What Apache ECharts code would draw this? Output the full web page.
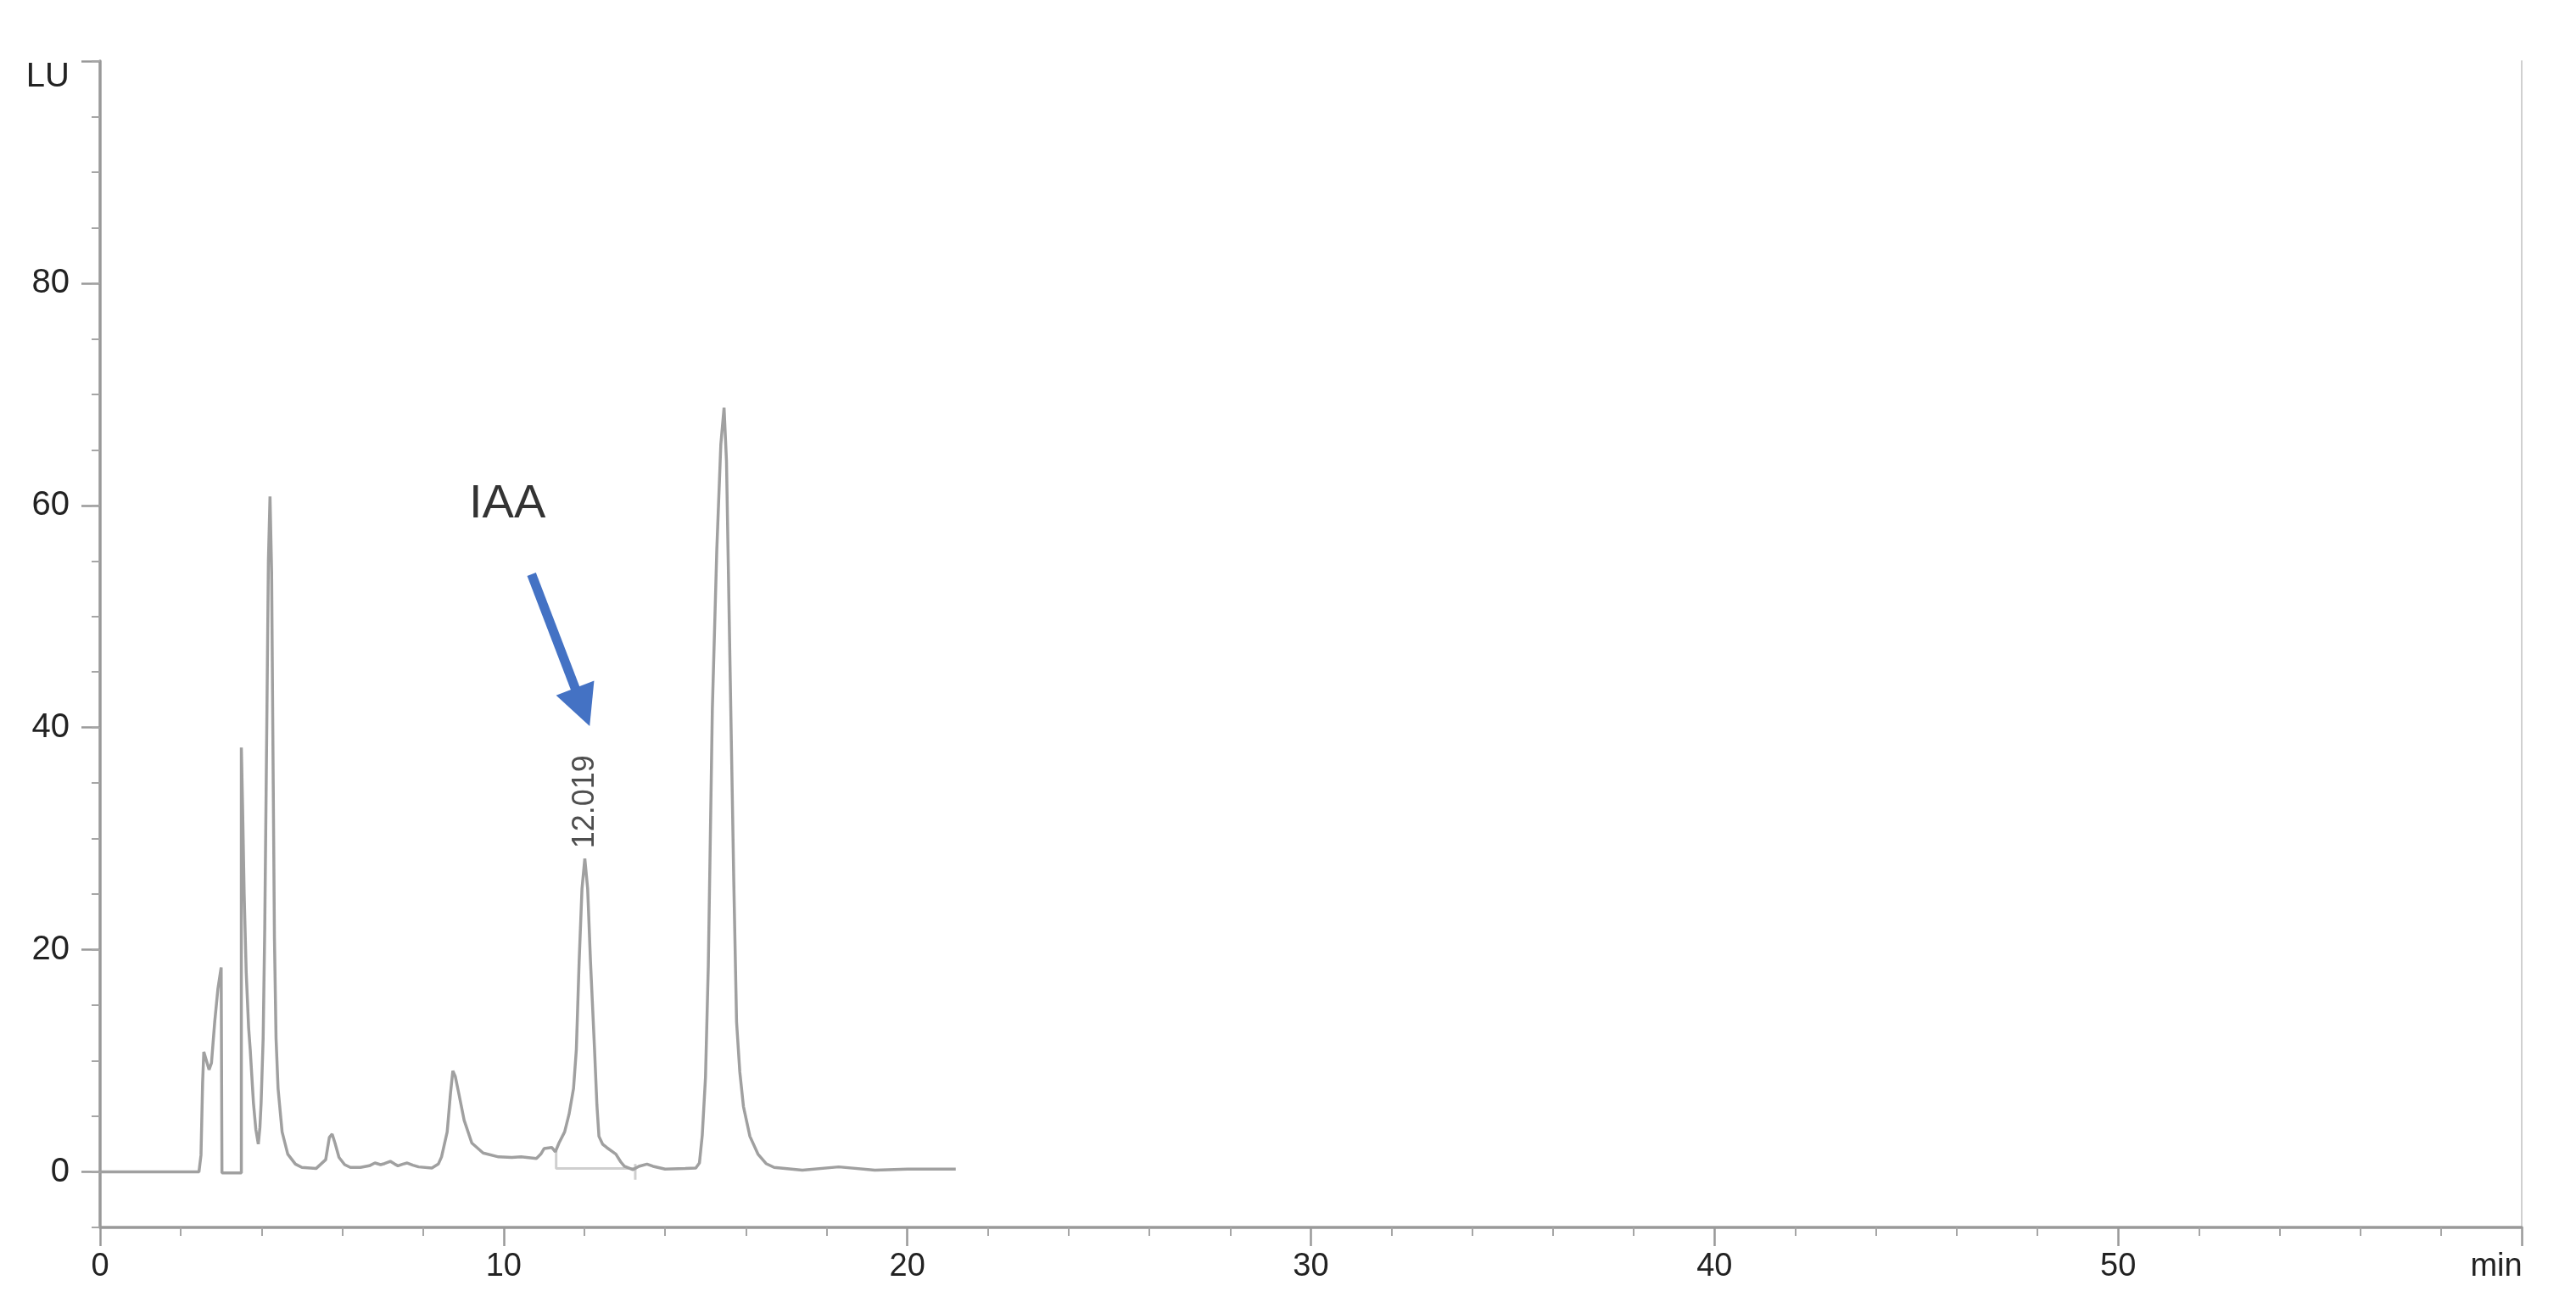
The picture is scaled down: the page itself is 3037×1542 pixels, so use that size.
<!DOCTYPE html>
<html>
<head>
<meta charset="utf-8">
<script src="https://cdn.jsdelivr.net/npm/echarts@6/dist/echarts.min.js"></script>
<style>
html,body{margin:0;padding:0;background:#fff;}
#chart{width:3037px;height:1542px;}
</style>
</head>
<body>
<div id="chart"></div>
<script>
// retention time (min)
const time = [0, 2.45, 2.5, 2.54, 2.57, 2.62, 2.7, 2.76, 2.84, 2.92, 3.0, 3.02, 3.02, 3.5, 3.5, 3.53, 3.57, 3.62, 3.68, 3.72, 3.8, 3.86, 3.92, 3.96, 3.99, 4.04, 4.08, 4.13, 4.17, 4.21, 4.25, 4.29, 4.32, 4.36, 4.41, 4.51, 4.65, 4.84, 5.0, 5.35, 5.59, 5.68, 5.75, 5.82, 5.92, 6.06, 6.2, 6.45, 6.67, 6.81, 6.95, 7.05, 7.19, 7.3, 7.38, 7.5, 7.61, 7.75, 7.89, 8.22, 8.38, 8.46, 8.6, 8.68, 8.74, 8.8, 8.88, 9.02, 9.21, 9.49, 9.87, 10.2, 10.43, 10.81, 10.92, 11.0, 11.19, 11.28, 11.37, 11.51, 11.62, 11.73, 11.8, 11.87, 11.94, 12.01, 12.08, 12.15, 12.25, 12.31, 12.36, 12.45, 12.55, 12.78, 12.9, 12.99, 13.2, 13.35, 13.55, 13.7, 14.0, 14.5, 14.76, 14.85, 14.92, 15.0, 15.07, 15.17, 15.28, 15.38, 15.46, 15.52, 15.59, 15.7, 15.77, 15.85, 15.94, 16.1, 16.3, 16.5, 16.7, 17.4, 18.3, 19.2, 20.0, 21.2];
// fluorescence signal (LU)
const signal = [0, 0, 1.5, 8.0, 10.8, 10.2, 9.2, 9.8, 13.5, 16.5, 18.4, 18.4, -0.1, -0.1, 38.2, 33, 25, 18, 13, 11, 6.2, 3.8, 2.5, 4, 6.2, 12, 22, 40, 55, 60.8, 54, 35, 21, 12, 7.5, 3.6, 1.6, 0.7, 0.4, 0.3, 1.1, 3.1, 3.4, 2.6, 1.3, 0.65, 0.4, 0.4, 0.55, 0.8, 0.65, 0.75, 0.95, 0.7, 0.55, 0.7, 0.8, 0.6, 0.45, 0.35, 0.7, 1.35, 3.6, 7.0, 9.1, 8.6, 7.2, 4.65, 2.6, 1.7, 1.35, 1.3, 1.35, 1.2, 1.6, 2.1, 2.2, 1.8, 2.6, 3.6, 5.2, 7.5, 11, 19, 25.5, 28.2, 25.5, 19, 11.1, 6, 3.2, 2.5, 2.2, 1.6, 0.9, 0.5, 0.2, 0.5, 0.7, 0.5, 0.25, 0.3, 0.35, 0.8, 3.3, 8.5, 18.6, 41.7, 56, 65.5, 68.8, 64, 49.3, 26.3, 13.5, 9, 5.9, 3.2, 1.6, 0.75, 0.4, 0.15, 0.45, 0.15, 0.25, 0.25];

// integration baseline of the IAA peak
const baseTime = [11.3, 11.3, 13.26, 13.26, 13.26];
const baseSignal = [1.9, 0.3, 0.3, 0.7, -0.7];

// axis ticks / labels
const xTicks = [0, 10, 20, 30, 40, 50, 60];
const xTickLabels = ['0', '10', '20', '30', '40', '50', 'min'];
const yTicks = [0, 20, 40, 60, 80, 100];
const yTickLabels = ['0', '20', '40', '60', '80', 'LU'];

// annotations
const peakRT = 12.019;
const peakHeight = 28.2;
const peakLabel = '12.019';
const iaaText = 'IAA';
const iaaPos = [10.09, 60.1];
const arrowStart = [10.69, 53.8];
const arrowEnd = [11.95, 41.85];

const FONT = "'Liberation Sans', Arial, sans-serif";
const trace = time.map((t, i) => [t, signal[i]]);
const baseline = baseTime.map((t, i) => [t, baseSignal[i]]);

const chart = echarts.init(document.getElementById('chart'), null, {renderer: 'canvas'});
chart.setOption({
  animation: false,
  backgroundColor: '#ffffff',
  grid: {left: 118, right: 64, top: 72, bottom: 95, containLabel: false},
  xAxis: {
    type: 'value', min: 0, max: 60, interval: 10,
    axisLine: {show: true, onZero: false, lineStyle: {color: '#999999', width: 3.5}},
    axisTick: {show: true, length: 22, lineStyle: {color: '#999999', width: 2.5}},
    minorTick: {show: true, splitNumber: 5, length: 10, lineStyle: {color: '#a6a6a6', width: 2}},
    splitLine: {show: false},
    axisLabel: {
      show: true, margin: 28, fontSize: 38, color: '#222222', fontFamily: FONT,
      showMinLabel: true, showMaxLabel: true,
      formatter: function (v) {
        const i = xTicks.indexOf(v);
        const s = i >= 0 ? xTickLabels[i] : '';
        return s === 'min' ? '{u|min}' : s;
      },
      rich: {u: {fontSize: 38, color: '#222222', fontFamily: FONT, padding: [0, 60, 0, 0]}}
    }
  },
  yAxis: [
    {
      type: 'value', min: -5, max: 100, position: 'left',
      axisLine: {show: true, onZero: false, lineStyle: {color: '#999999', width: 3.5}},
      axisTick: {show: true, length: 22, customValues: yTicks, lineStyle: {color: '#999999', width: 2.5}},
      splitLine: {show: false},
      axisLabel: {
        show: true, margin: 36, fontSize: 40, color: '#222222', fontFamily: FONT,
        customValues: yTicks,
        formatter: function (v) {
          const i = yTicks.indexOf(v);
          const s = i >= 0 ? yTickLabels[i] : '';
          return s === 'LU' ? '{u|LU}' : s;
        },
        rich: {u: {fontSize: 40, color: '#222222', fontFamily: FONT, padding: [38, 0, 0, 0]}}
      }
    },
    {
      type: 'value', min: -5, max: 100, interval: 5, position: 'left',
      axisLine: {show: false},
      axisTick: {show: true, length: 10, lineStyle: {color: '#a6a6a6', width: 2}},
      axisLabel: {show: false},
      splitLine: {show: false}
    },
    {
      type: 'value', min: -5, max: 100, position: 'right',
      axisLine: {show: true, onZero: false, lineStyle: {color: '#d0d0d0', width: 2}},
      axisTick: {show: false},
      axisLabel: {show: false},
      splitLine: {show: false}
    }
  ],
  series: [
    {
      name: 'baseline', type: 'line', data: baseline, yAxisIndex: 0,
      showSymbol: false, symbol: 'none', silent: true,
      lineStyle: {color: '#cfcfcf', width: 3}, z: 2
    },
    {
      name: 'FLD', type: 'line', data: trace, yAxisIndex: 0,
      showSymbol: false, symbol: 'none', silent: true,
      lineStyle: {color: '#a0a0a0', width: 3.5}, z: 3,
      markLine: {
        silent: true, animation: false,
        label: {show: false},
        lineStyle: {color: '#4472C4', width: 11, type: 'solid', cap: 'butt'},
        emphasis: {disabled: true},
        data: [[
          {coord: arrowStart, symbol: 'none'},
          {coord: arrowEnd, symbol: 'triangle', symbolSize: 48}
        ]]
      }
    },
    {
      name: 'peak label', type: 'scatter', yAxisIndex: 0,
      data: [[peakRT, peakHeight]], symbolSize: 0, silent: true,
      label: {
        show: true, formatter: peakLabel, position: 'top', distance: 12, rotate: 90,
        align: 'left', verticalAlign: 'middle',
        fontSize: 36, color: '#222222', fontFamily: FONT
      }
    },
    {
      name: 'IAA', type: 'scatter', yAxisIndex: 0,
      data: [iaaPos], symbolSize: 0, silent: true,
      label: {
        show: true, formatter: iaaText, position: 'inside',
        fontSize: 56, color: '#000000', fontFamily: FONT
      }
    }
  ]
});
</script>
</body>
</html>
